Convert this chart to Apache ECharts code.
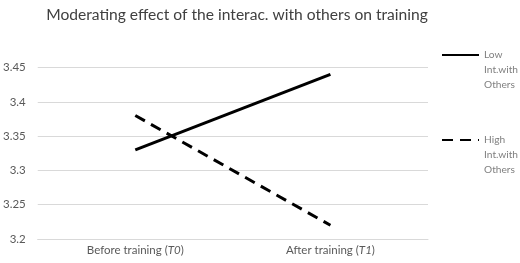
<!DOCTYPE html>
<html>
<head>
<meta charset="utf-8">
<script src="https://cdn.jsdelivr.net/npm/echarts@6/dist/echarts.min.js"></script>
<style>html,body{margin:0;padding:0;background:#fff;}#c{width:520px;height:263px;}</style>
</head>
<body>
<div id="c"></div>
<script>
var titleText = 'Moderating effect of the interac. with others on training';
var categories = ['Before training (T0)', 'After training (T1)'];
var lowName = 'Low\nInt.with\nOthers';
var highName = 'High\nInt.with\nOthers';
var lowValues = [3.33, 3.44];
var highValues = [3.38, 3.22];
var yTicks = [3.2, 3.25, 3.3, 3.35, 3.4, 3.45];

var FONT = 'Lato';
var chart = echarts.init(document.getElementById('c'), null, {renderer: 'canvas'});
chart.setOption({
  animation: false,
  backgroundColor: '#ffffff',
  title: {
    text: titleText,
    left: 232, top: 2, textAlign: 'center',
    textStyle: {fontFamily: FONT, fontSize: 15.6, fontWeight: 'normal', color: '#404040'}
  },
  legend: {
    orient: 'vertical',
    left: 441, top: 17.5, padding: 0,
    itemWidth: 37, itemHeight: 14, itemGap: 10,
    data: [lowName, highName],
    itemStyle: {opacity: 0},
    formatter: function (n) { return '\n\n' + n; },
    textStyle: {fontFamily: FONT, fontSize: 10.2, color: '#7f7f7f', lineHeight: 15}
  },
  grid: {left: 33, right: 92, top: 67.5, bottom: 24},
  xAxis: {
    type: 'category',
    data: categories,
    boundaryGap: true,
    axisLine: {show: true, lineStyle: {color: '#d9d9d9', width: 1}},
    axisTick: {show: false},
    axisLabel: {
      margin: 5,
      fontFamily: FONT, fontSize: 11.5, color: '#595959',
      formatter: function (v) {
        var m = v.match(/^(.*\()(.*)(\))$/);
        return m ? m[1] + '{i|' + m[2] + '}' + m[3] : v;
      },
      rich: {i: {fontStyle: 'italic', fontFamily: FONT, fontSize: 11.5, color: '#595959'}}
    }
  },
  yAxis: {
    type: 'value',
    min: yTicks[0], max: yTicks[yTicks.length - 1], interval: 0.05,
    axisLine: {show: false},
    axisTick: {show: false},
    splitLine: {lineStyle: {color: '#d9d9d9', width: 1}},
    axisLabel: {
      margin: 12, fontFamily: FONT, fontSize: 11.5, color: '#595959',
      formatter: function (v) { return String(Math.round(v * 100) / 100); }
    }
  },
  series: [
    {
      name: lowName, type: 'line', data: lowValues,
      symbol: 'none', color: '#000000',
      lineStyle: {color: '#000000', width: 3}
    },
    {
      name: highName, type: 'line', data: highValues,
      symbol: 'none', color: '#000000',
      lineStyle: {color: '#000000', width: 3, type: [11, 7]}
    }
  ]
});
</script>
</body>
</html>
